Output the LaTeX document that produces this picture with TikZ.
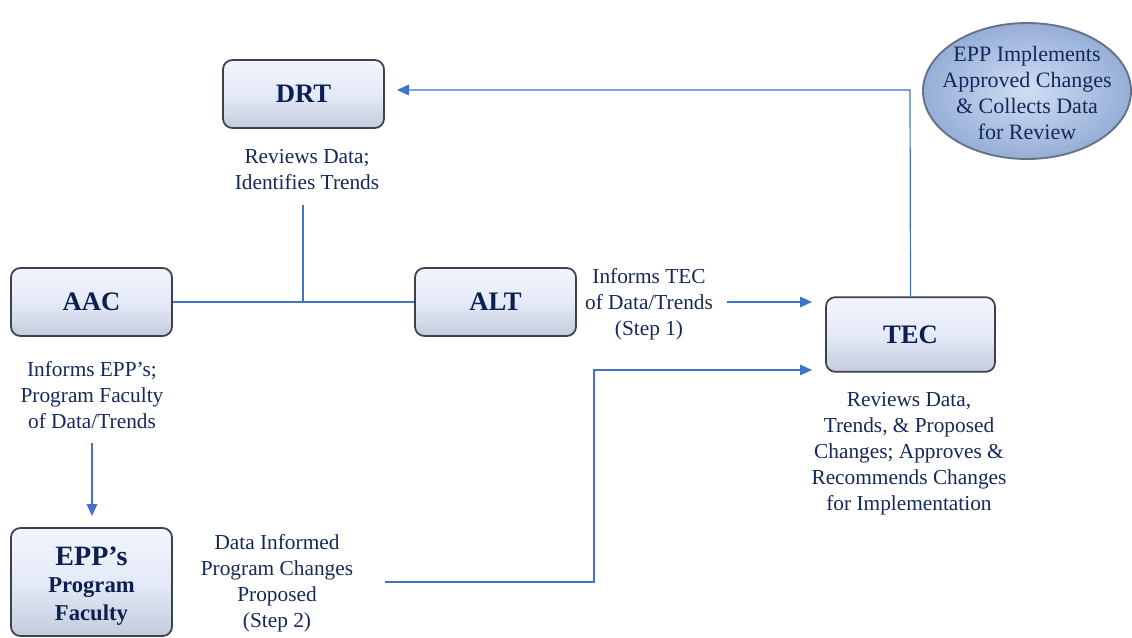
\documentclass[tikz,border=0pt]{standalone}
\usepackage{fontspec}
\setmainfont{Liberation Serif}
\usetikzlibrary{arrows.meta,shapes.geometric}
\definecolor{navy}{HTML}{14285A}
\definecolor{boxnavy}{HTML}{0B1F50}
\definecolor{linkblue}{HTML}{4472C4}
\definecolor{boxedge}{HTML}{3C414C}
\definecolor{boxtop}{RGB}{242,245,252}
\definecolor{boxmid}{RGB}{228,234,248}
\definecolor{boxbot}{RGB}{196,203,218}
\definecolor{ellin}{RGB}{208,222,244}
\definecolor{ellout}{RGB}{150,174,214}
\definecolor{elledge}{RGB}{100,114,136}
\tikzset{
  px/.style={x=0.75pt,y=-0.75pt},
  box/.style={draw=boxedge, line width=1.3pt, rounded corners=7pt,
    top color=boxtop, bottom color=boxbot, middle color=boxmid,
    font=\fontsize{20}{20}\selectfont\bfseries, text=boxnavy,
    minimum width=120.75pt, minimum height=51pt, align=center, inner sep=2pt},
  plain/.style={font=\fontsize{16}{19.5}\selectfont, text=navy, align=center, inner sep=1pt},
  link/.style={draw=linkblue, line width=0.9pt},
  arr/.style={link, -{Triangle[length=9pt,width=8pt]}},
}
\begin{document}
\begin{tikzpicture}[px]
\useasboundingbox (0,0) rectangle (1132,638);
% boxes
\node[box] (drt) at (303.5,94) {DRT};
\node[box] (aac) at (91.5,302) {AAC};
\node[box] (alt) at (495.5,302) {ALT};
\node[box, minimum width=126.75pt, minimum height=56pt] (tec) at (910.5,334.5) {TEC};
\node[box, minimum height=81pt, font=\fontsize{17}{20.5}\selectfont\bfseries, inner sep=1pt] (epp) at (91.5,582) {};
\node[font=\fontsize{17}{20.5}\selectfont\bfseries, text=boxnavy, align=center, inner sep=0pt] (eppl) at (91.5,586)
  {{\fontsize{21}{20.5}\selectfont EPP’s}\\Program\\Faculty};
\node[ellipse, draw=elledge, line width=1.4pt, inner color=ellin, outer color=ellout,
  minimum width=156pt, minimum height=102pt, inner sep=0pt] (epl) at (1027,91) {};
\node[plain, font=\fontsize{16.5}{19.5}\selectfont] (eplt) at (1027,93)
  {EPP Implements\\Approved Changes\\\& Collects Data\\for Review};
% texts
\node[plain] (drtt) at (307,169.5) {Reviews Data;\\Identifies Trends};
\node[plain] (aact) at (92,395.5) {Informs EPP’s;\\Program Faculty\\of Data/Trends};
\node[plain] (altt) at (649,304.5) {Informs TEC\\of Data/Trends\\(Step 1)};
\node[plain] (tect) at (909,454) {Reviews Data,\\Trends, \& Proposed\\Changes; Approves \&\\Recommends Changes\\for Implementation};
\node[plain] (eppt) at (277,583) {Data Informed\\Program Changes\\Proposed\\(Step 2)};
% connectors
\coordinate (j) at (303,302);
\coordinate (jt) at (303,205);
\draw[link] (aac.east) -- (alt.west);
\draw[link] (j) -- (jt);
\coordinate (a1s) at (727,302);
\coordinate (a1e) at (812,302);
\draw[arr] (a1s) -- (a1e);
\coordinate (up) at (910,90);
\coordinate (drtin) at (397,90);
\draw[arr] (tec.north) -- (up) -- (drtin);
\coordinate (a3s) at (92,443);
\coordinate (a3e) at (92,516);
\draw[arr] (a3s) -- (a3e);
\coordinate (s2s) at (385,582);
\coordinate (s2a) at (594,582);
\coordinate (s2b) at (594,370);
\coordinate (s2e) at (812,370);
\draw[arr] (s2s) -- (s2a) -- (s2b) -- (s2e);
\end{tikzpicture}
\end{document}
